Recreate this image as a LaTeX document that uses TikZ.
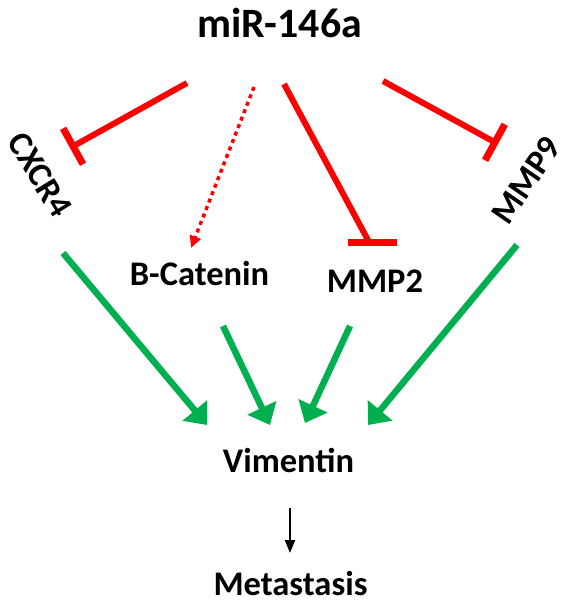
\documentclass[tikz,border=0pt]{standalone}
\usepackage{fontspec}
\setmainfont{Carlito}
\usetikzlibrary{arrows.meta}
\definecolor{grn}{HTML}{00B050}
\definecolor{rd}{HTML}{FF0000}
\begin{document}
\begin{tikzpicture}[x=1pt,y=-1pt,
  lbl/.style={font=\fontsize{34.5}{40}\selectfont\bfseries, inner sep=0pt},
  big/.style={font=\fontsize{41.8}{48}\selectfont\bfseries, inner sep=0pt},
  inhib/.style={draw=rd, line width=6pt},
  barred/.style={inhib, -{Bar[width=41pt,line width=7pt]}},
  act/.style={draw=grn, line width=6.5pt, -{Triangle[length=19pt,width=31pt]}},
  dotact/.style={draw=rd, line width=3.5pt, dash pattern=on 4pt off 4pt, -{Triangle[length=12pt,width=11pt]}},
  blk/.style={draw=black, line width=2pt, -{Triangle[length=13pt,width=10pt]}}]
\useasboundingbox (0,0) rectangle (566,603);
\fill[white] (0,0) rectangle (566,603);
% labels
\node[big, anchor=base] (mir) at (279.5,37) {miR-146a};
\node[lbl, anchor=base] (bcat) at (199.5,285) {B-Catenin};
\node[lbl, anchor=base] (mmp2) at (375,292) {MMP2};
\node[lbl, anchor=base] (vim) at (288.5,472) {Vimentin};
\node[lbl, anchor=base] (met) at (290.5,595) {Metastasis};
\node[lbl, rotate=-58.6] (cxcr4) at (40,175) {CXCR4};
\node[lbl, rotate=55.4] (mmp9) at (526,180) {MMP9};
% connector end points
\coordinate (c0) at (187,83);  \coordinate (c1) at (70,148);
\coordinate (d0) at (254,87);  \coordinate (d1) at (191,248);
\coordinate (m0) at (284,84);  \coordinate (m1) at (369,242);
\coordinate (b2l) at (348,242); \coordinate (b2r) at (397,242);
\coordinate (n0) at (383,81);  \coordinate (n1) at (498,144);
\coordinate (g1s) at (63,253);  \coordinate (g1e) at (207,425);
\coordinate (g2s) at (223,326); \coordinate (g2e) at (270,425);
\coordinate (g3s) at (350,326); \coordinate (g3e) at (305,423);
\coordinate (g4s) at (517,245); \coordinate (g4e) at (368,425);
\coordinate (v0) at (290,508);  \coordinate (v1) at (290,553);
% miR-146a effects
\draw[barred] (c0) -- (c1);
\draw[dotact] (d0) -- (d1);
\draw[inhib] (m0) -- (m1);
\draw[rd, line width=7pt] (b2l) -- (b2r);
\draw[barred] (n0) -- (n1);
% activations of Vimentin
\draw[act] (g1s) -- (g1e);
\draw[act] (g2s) -- (g2e);
\draw[act] (g3s) -- (g3e);
\draw[act] (g4s) -- (g4e);
% Vimentin to Metastasis
\draw[blk] (v0) -- (v1);
\end{tikzpicture}
\end{document}
